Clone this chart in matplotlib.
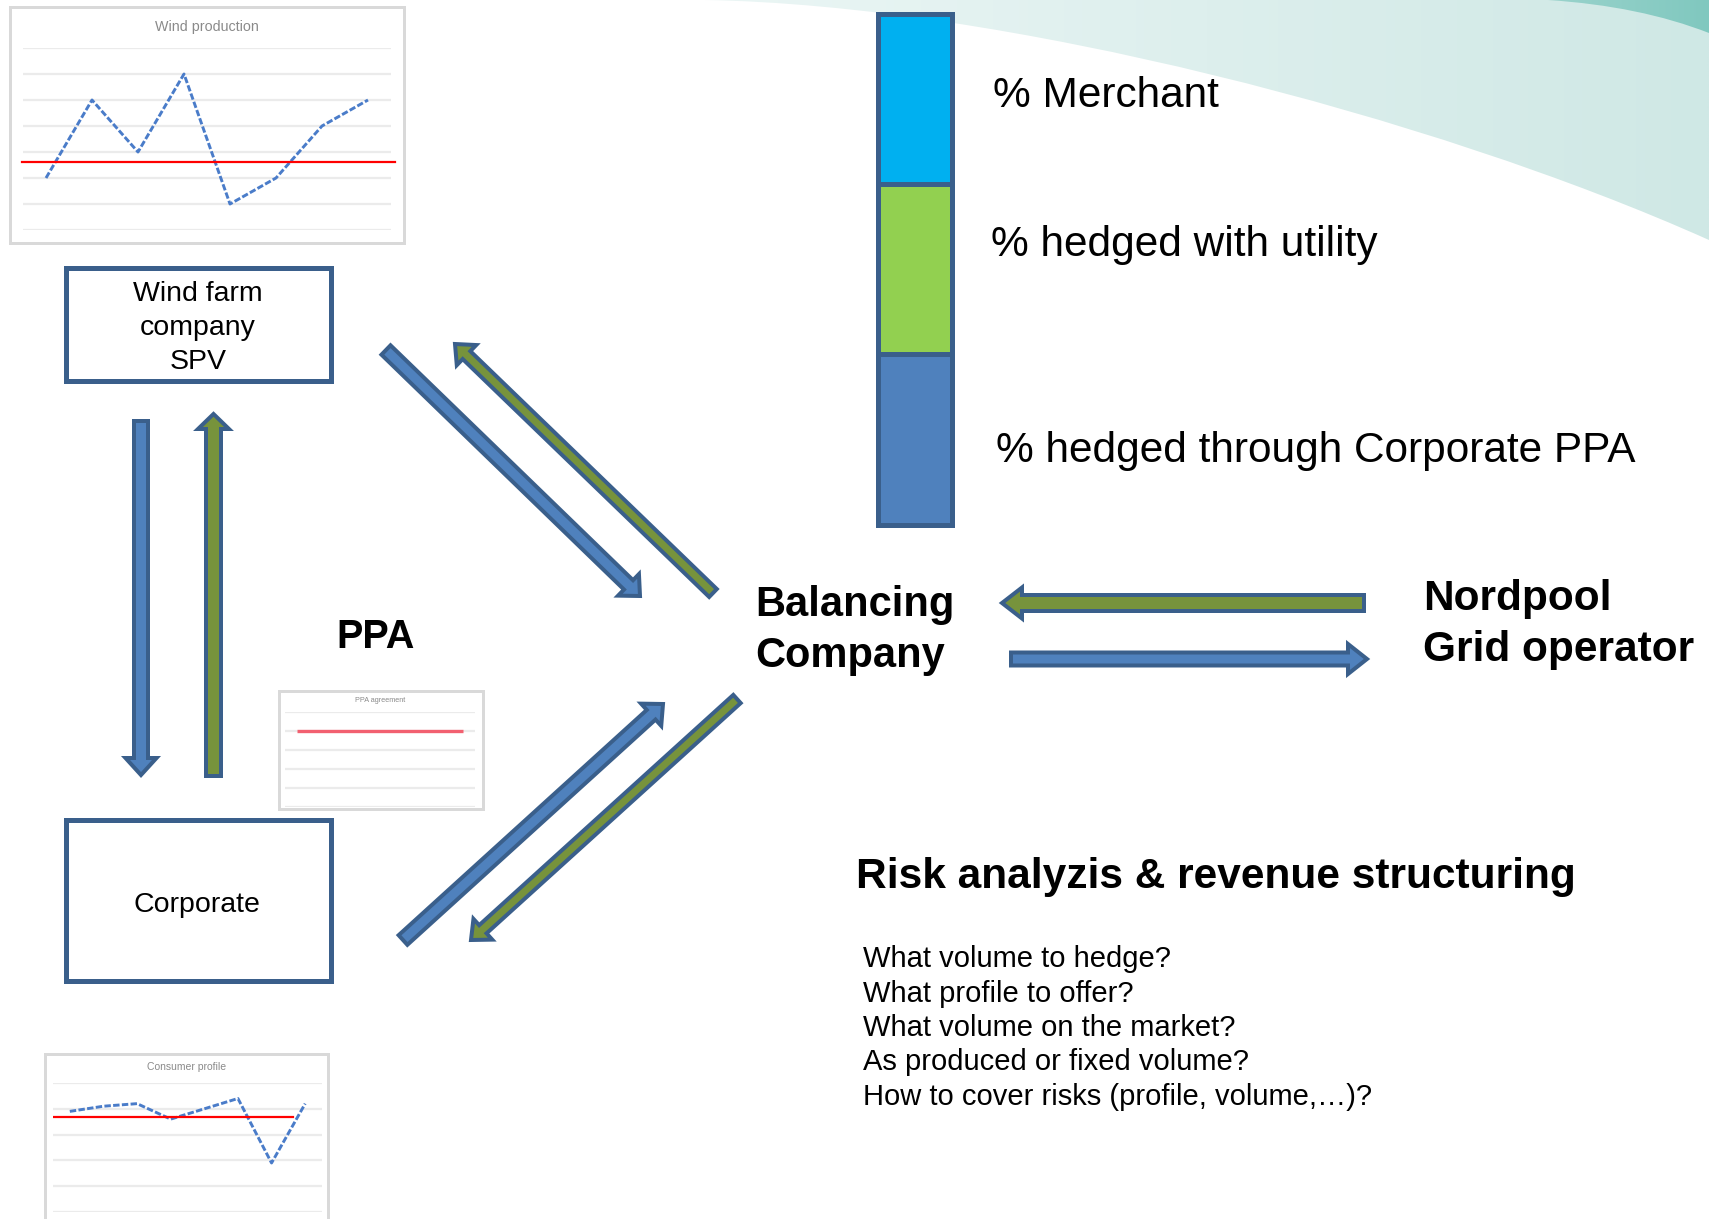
import matplotlib
matplotlib.use("Agg")
import numpy as np
import matplotlib.pyplot as plt
from matplotlib.patches import Rectangle, FancyArrow, PathPatch
from matplotlib.path import Path

plt.rcParams["font.family"] = ["Liberation Sans", "DejaVu Sans"]

W, H = 1709, 1219

# ---- small chart series -------------------------------------------------
periods = list(range(8))
wind_production = [2, 5, 3, 6, 1, 2, 4, 5]
wind_average = 2.6
ppa_volume = [4, 4, 4, 4, 4, 4, 4, 4]
consumer_profile = [3.9, 4.1, 4.2, 3.6, 4.0, 4.4, 1.9, 4.2]
consumer_level = 3.7

# ---- hedge split (bottom to top) -----------------------------------------
hedge_labels = ["% hedged through Corporate PPA", "% hedged with utility", "% Merchant"]
hedge_shares = [33.4, 33.3, 33.3]
hedge_colors = ["#4f81bd", "#92d050", "#00b0f0"]

questions = [
    "What volume to hedge?",
    "What profile to offer?",
    "What volume on the market?",
    "As produced or fixed volume?",
    "How to cover risks (profile, volume,\u2026)?",
]

OUTLINE = "#3a5f8b"
BLUE = "#4f81bd"
GREEN = "#77933c"
PX = 72 / 100  # points per pixel at dpi 100

fig = plt.figure(figsize=(W / 100, H / 100), dpi=100)
ax = fig.add_axes([0, 0, 1, 1])
ax.set_xlim(0, W)
ax.set_ylim(H, 0)
ax.axis("off")


def px_axes(x0, y0, x1, y1):
    return fig.add_axes([x0 / W, 1 - y1 / H, (x1 - x0) / W, (y1 - y0) / H])


# ---- decorative teal swoosh ------------------------------------------------
def gradient_fill(path, x0, x1, c0, c1, z):
    patch = PathPatch(path, facecolor="none", edgecolor="none", zorder=z)
    ax.add_patch(patch)
    a = np.array(matplotlib.colors.to_rgb(c0))
    b = np.array(matplotlib.colors.to_rgb(c1))
    t = np.linspace(0, 1, 256)[None, :, None]
    img = a + (b - a) * t
    im = ax.imshow(img, extent=(x0, x1, 260, 0), aspect="auto", zorder=z,
                   interpolation="bilinear")
    im.set_clip_path(patch)


band = Path(
    [(705, 0), (1000, 5), (1430, 115), (1709, 240), (1709, 0), (705, 0)],
    [Path.MOVETO, Path.CURVE4, Path.CURVE4, Path.CURVE4, Path.LINETO, Path.CLOSEPOLY],
)
gradient_fill(band, 705, 1709, "#ebf6f5", "#cfe8e5", 0.5)
dark = Path(
    [(1548, 0), (1640, 6), (1709, 33), (1709, 0), (1548, 0)],
    [Path.MOVETO, Path.CURVE3, Path.CURVE3, Path.LINETO, Path.CLOSEPOLY],
)
gradient_fill(dark, 1548, 1709, "#9ad3cc", "#80c8bf", 0.6)
ax.set_xlim(0, W)
ax.set_ylim(H, 0)


# ---- small embedded charts ----------------------------------------------
def frame(x0, y0, x1, y1):
    ax.add_patch(Rectangle((x0, y0), x1 - x0, y1 - y0, facecolor="white",
                           edgecolor="#d9d9d9", lw=3 * PX, zorder=1))


def mini_axes(rect, top):
    a = px_axes(*rect)
    a.set_xlim(0, 8)
    a.set_ylim(0, top)
    a.set_facecolor("none")
    for s in a.spines.values():
        s.set_visible(False)
    a.set_xticks([])
    a.set_yticks(range(top + 1))
    a.tick_params(left=False, labelleft=False)
    a.grid(axis="y", color="#ebebeb", lw=1.6)
    return a


xs = [p + 0.5 for p in periods]
dash = dict(color="#4a7cc9", lw=2.1, dashes=(2.2, 0.8), solid_capstyle="butt")

# wind production
frame(10, 7, 404, 243)
a1 = mini_axes((23, 48, 391, 230), 7)
a1.plot(xs, wind_production, **dash)
a1.axhline(wind_average, xmin=-0.003, xmax=1.011, color="#ff0000", lw=1.6, clip_on=False)
ax.text(207, 27, "Wind production", fontsize=10.3, color="#8a8a8a", ha="center", va="center")

# PPA agreement
frame(279, 691, 483, 809)
a2 = mini_axes((285, 712, 475, 807), 5)
a2.plot(xs, ppa_volume, color="#f26070", lw=2.4, solid_capstyle="butt")
ax.text(380, 700, "PPA agreement", fontsize=5.2, color="#8a8a8a", ha="center", va="center")

# consumer profile
frame(45, 1054, 328, 1240)
a3 = mini_axes((53, 1083, 322, 1212), 5)
a3.plot(xs, consumer_profile, **dash)
a3.plot([0.03, 7.13], [consumer_level] * 2, color="#ff0000", lw=1.6)
ax.text(187, 1067, "Consumer profile", fontsize=7.5, color="#8a8a8a", ha="center", va="center")

# ---- entity boxes ----------------------------------------------------------
BOX_LW = 5
for (x0, y0, x1, y1) in [(63, 265, 333, 383), (63, 817, 333, 983)]:
    h = BOX_LW / 2
    ax.add_patch(Rectangle((x0 + h, y0 + h), x1 - x0 - BOX_LW, y1 - y0 - BOX_LW,
                           facecolor="white", edgecolor=OUTLINE, lw=BOX_LW * PX, zorder=3))

for y, s in zip([301, 335, 369], ["Wind farm", "company", "SPV"]):
    ax.text(198, y, s, fontsize=20.5, ha="center", va="baseline", zorder=4)
ax.text(197, 912, "Corporate", fontsize=20.5, ha="center", va="baseline", zorder=4)


# ---- flow arrows ------------------------------------------------------------
def arrow(tail, tip, fill, width, hw=30, hl=17):
    dx, dy = tip[0] - tail[0], tip[1] - tail[1]
    ax.add_patch(FancyArrow(tail[0], tail[1], dx, dy, width=width, head_width=hw,
                            head_length=hl, length_includes_head=True,
                            facecolor=fill, edgecolor=OUTLINE, lw=4 * PX,
                            joinstyle="miter", zorder=5))


# SPV <-> Corporate
arrow((141, 421), (141, 775), BLUE, 14, 31, 17)
arrow((213.5, 776), (213.5, 414), GREEN, 15, 31, 15)
# SPV <-> Balancing company
arrow((386, 350), (640, 596), BLUE, 13, 30, 16)
arrow((713, 593), (455, 344), GREEN, 11, 28, 16)
# Corporate <-> Balancing company
arrow((403, 940), (663, 704), BLUE, 13, 30, 16)
arrow((737, 699), (471, 940), GREEN, 11, 28, 16)
# Balancing company <-> Nordpool
arrow((1364, 603), (1002, 603), GREEN, 16, 31, 20)
arrow((1011, 659), (1367, 659), BLUE, 13, 30, 19)

# ---- hedge split bar ---------------------------------------------------------
ab = px_axes(877.5, 13.5, 952.5, 524.5)
ab.set_xlim(-0.5, 0.5)
ab.set_ylim(0, sum(hedge_shares))
ab.axis("off")
bottom = 0
for share, col in zip(hedge_shares, hedge_colors):
    ab.bar(0, share, bottom=bottom, width=1, color=col, edgecolor=OUTLINE,
           lw=5 * PX, clip_on=False)
    bottom += share

label_pos = {"% Merchant": (993, 107), "% hedged with utility": (991, 256),
             "% hedged through Corporate PPA": (996, 462)}
for lab in hedge_labels:
    x, y = label_pos[lab]
    ax.text(x, y, lab, fontsize=30.5, ha="left", va="baseline")

# ---- node labels ---------------------------------------------------------------
ax.text(376, 648, "PPA", fontsize=28.5, fontweight="bold", ha="center", va="baseline")
ax.text(755, 616, "Balancing", fontsize=30, fontweight="bold", ha="left", va="baseline")
ax.text(755, 667, "Company", fontsize=30, fontweight="bold", ha="left", va="baseline")
ax.text(1423, 610, "Nordpool", fontsize=30.5, fontweight="bold", ha="left", va="baseline")
ax.text(1423, 661, "Grid operator", fontsize=30.5, fontweight="bold", ha="left", va="baseline")

ax.text(856, 888, "Risk analyzis & revenue structuring", fontsize=30.5,
        fontweight="bold", ha="left", va="baseline")
for i, q in enumerate(questions):
    ax.text(863, 967 + i * 34.5, q, fontsize=21, ha="left", va="baseline")

fig.savefig("out.png", dpi=100, facecolor="white")
